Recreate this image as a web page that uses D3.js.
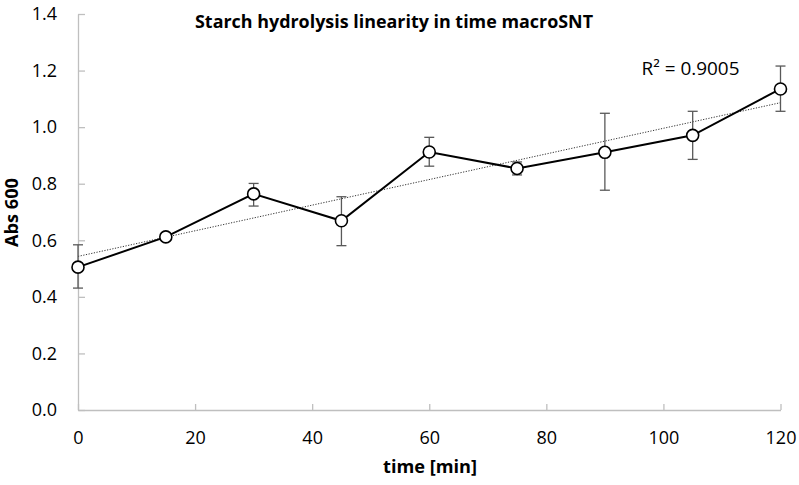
<!DOCTYPE html>
<html><head><meta charset="utf-8">
<script src="https://cdn.jsdelivr.net/npm/d3@7"></script>
<style>body{margin:0;background:#fff}svg{display:block}text{font-family:"Open Sans","Liberation Sans",sans-serif}</style>
</head><body><svg id="c" width="799" height="485"></svg>
<script>
const times = [0, 15, 30, 45, 60, 75, 90, 105, 120];
const absMean = [0.505, 0.612, 0.764, 0.669, 0.912, 0.854, 0.911, 0.971, 1.135];
const errLow = [0.431, 0.602, 0.721, 0.581, 0.862, 0.831, 0.777, 0.886, 1.056];
const errHigh = [0.584, 0.622, 0.801, 0.754, 0.964, 0.877, 1.049, 1.056, 1.216];
const xTicks = [0, 20, 40, 60, 80, 100, 120];
const yTicks = [0, 0.2, 0.4, 0.6, 0.8, 1.0, 1.2, 1.4];
const title = "Starch hydrolysis linearity in time macroSNT";
const r2Label = "R² = 0.9005";

const svg = d3.select("#c");
const x = d3.scaleLinear().domain([0, 120]).range([78, 780.5]);
const y = d3.scaleLinear().domain([0, 1.4]).range([410, 14]);
const axisColor = "#bfbfbf";

// axes
const xa = svg.append("g").attr("transform", "translate(0,410)")
  .call(d3.axisBottom(x).tickValues(xTicks).tickSizeInner(-6).tickSizeOuter(0).tickPadding(21).tickFormat(d3.format("d")));
const ya = svg.append("g").attr("transform", "translate(78,0)")
  .call(d3.axisLeft(y).tickValues(yTicks).tickSizeInner(-7).tickSizeOuter(0).tickPadding(21).tickFormat(d3.format(".1f")));
[xa, ya].forEach(a => {
  a.attr("font-size", 18).attr("font-family", "'Open Sans',sans-serif");
  a.select(".domain").attr("stroke", axisColor).attr("stroke-width", 1.3);
  a.selectAll(".tick line").attr("stroke", axisColor).attr("stroke-width", 1.3);
  a.selectAll(".tick text").attr("fill", "#000");
});

// trendline (least squares on means)
const mx = d3.mean(times), my = d3.mean(absMean);
const slope = d3.sum(times.map((t, i) => (t - mx) * (absMean[i] - my))) / d3.sum(times.map(t => (t - mx) ** 2));
const icpt = my - slope * mx;
svg.append("line")
  .attr("x1", x(0)).attr("y1", y(icpt)).attr("x2", x(120)).attr("y2", y(icpt + slope * 120))
  .attr("stroke", "#333").attr("stroke-width", 1).attr("stroke-dasharray", "1.2,1.5");

// error bars
const eb = svg.append("g").attr("stroke", "#595959").attr("stroke-width", 1.3);
times.forEach((t, i) => {
  eb.append("line").attr("x1", x(t)).attr("x2", x(t)).attr("y1", y(errLow[i])).attr("y2", y(errHigh[i]));
  [errLow[i], errHigh[i]].forEach(v => eb.append("line").attr("x1", x(t) - 5).attr("x2", x(t) + 5).attr("y1", y(v)).attr("y2", y(v)));
});

// series line
svg.append("path").datum(times.map((t, i) => [t, absMean[i]]))
  .attr("d", d3.line().x(d => x(d[0])).y(d => y(d[1])))
  .attr("fill", "none").attr("stroke", "#000").attr("stroke-width", 2);

svg.append("g").selectAll("circle").data(times.map((t, i) => [t, absMean[i]])).join("circle")
  .attr("cx", d => x(d[0])).attr("cy", d => y(d[1])).attr("r", 6)
  .attr("fill", "#fff").attr("stroke", "#000").attr("stroke-width", 1.6);

// texts
svg.append("text").attr("x", 394).attr("y", 28).attr("text-anchor", "middle")
  .attr("font-size", 17).attr("font-weight", "bold")
  .attr("textLength", 398).attr("lengthAdjust", "spacingAndGlyphs").text(title);
svg.append("text").attr("x", 641.5).attr("y", 74.5)
  .attr("font-size", 18).attr("textLength", 98).attr("lengthAdjust", "spacingAndGlyphs").text(r2Label);
svg.append("text").attr("x", 383).attr("y", 473)
  .attr("font-size", 18).attr("font-weight", "bold")
  .attr("textLength", 94).attr("lengthAdjust", "spacingAndGlyphs").text("time [min]");
svg.append("text").attr("transform", "translate(18,247) rotate(-90)")
  .attr("font-size", 17).attr("font-weight", "bold")
  .attr("textLength", 69).attr("lengthAdjust", "spacingAndGlyphs").text("Abs 600");
</script></body></html>
